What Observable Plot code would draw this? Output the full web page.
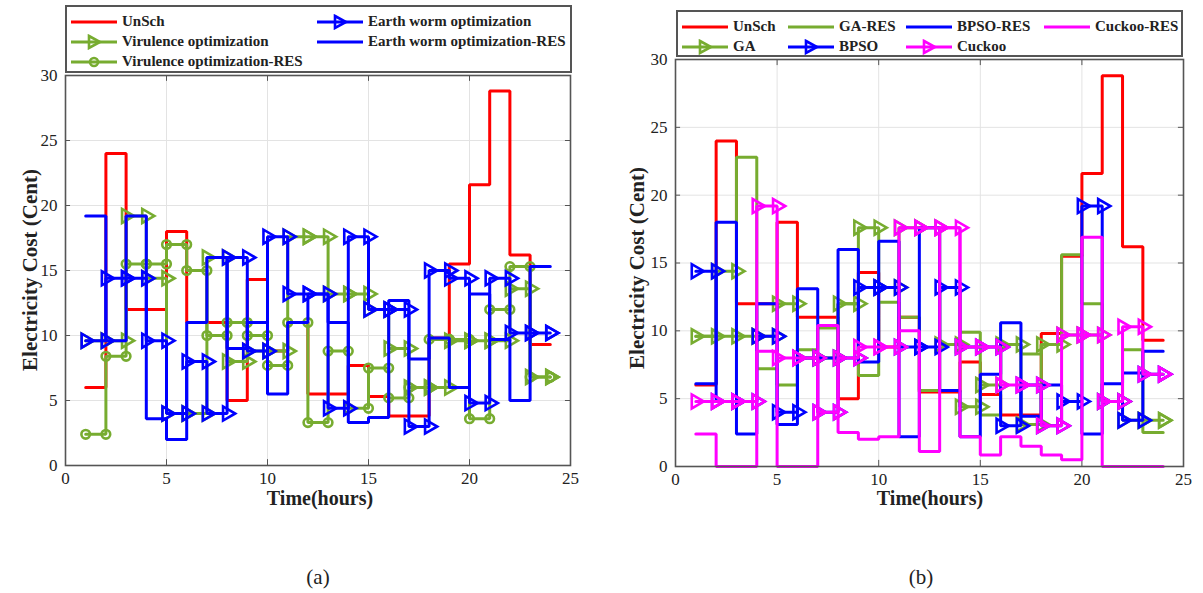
<!DOCTYPE html>
<html>
<head>
<meta charset="utf-8">
<script src="https://cdn.jsdelivr.net/npm/d3@7"></script>
<script src="https://cdn.jsdelivr.net/npm/@observablehq/plot@0.6"></script>
<style>
  html, body { margin: 0; padding: 0; background: #fff; }
  #root { position: relative; width: 1203px; height: 593px; background: #fff; font-family: "Liberation Serif", "Times New Roman", serif; color: #222; }
  .abs { position: absolute; }
  .legend { position: absolute; border: 2px solid #555; background: #fff; box-sizing: border-box; }
  .item { position: absolute; display: flex; align-items: center; font-weight: bold; font-size: 15px; white-space: nowrap; }
  .item svg { margin-right: 4px; }
  .ylab { position: absolute; font-weight: bold; font-size: 21px; white-space: nowrap; transform: translate(-50%, -50%) rotate(-90deg); }
  .xlab { position: absolute; font-weight: bold; font-size: 20px; white-space: nowrap; transform: translate(-50%, -50%); }
  .cap { position: absolute; font-size: 21px; transform: translate(-50%, -50%); }
</style>
</head>
<body>
<div id="root">
  <div id="pa" class="abs" style="left:0;top:0"></div>
  <div id="pb" class="abs" style="left:600px;top:0"></div>
</div>
<script>
// ---- data ----
const hours = d3.range(1, 25);
const xTicks = [0, 5, 10, 15, 20, 25];
const yTicks = [0, 5, 10, 15, 20, 25, 30];

// shared unscheduled cost
const unsch = [6, 24, 12, 12, 18, 11, 11, 5, 14.3, 8.8, 11, 5.5, 5.5, 7.7, 5.3, 3.8, 3.8, 9.8, 15.5, 21.6, 28.8, 16.2, 9.3, 9.3];

// panel (a)
const vo     = [9.6, 9.6, 19.2, 14.4, 4.0, 4.0, 16.0, 8.0, 8.8, 8.8, 17.6, 17.6, 13.2, 13.2, 12.0, 9.0, 6.0, 6.0, 9.6, 9.6, 9.6, 13.6, 6.8, 6.8];
const voRes  = [2.4, 8.4, 15.5, 15.5, 17.0, 15.0, 10.0, 11.0, 10.0, 7.7, 11.0, 3.3, 8.8, 4.4, 7.5, 5.2, 6.0, 9.7, 9.7, 3.6, 12.0, 15.3, 6.8, 6.8];
const ewo    = [9.6, 14.4, 14.4, 9.6, 4.0, 8.0, 4.0, 16.0, 8.8, 17.6, 13.2, 13.2, 4.4, 17.6, 12.0, 12.0, 3.0, 15.0, 14.4, 4.8, 14.4, 10.2, 10.2, 10.2];
const ewoRes = [19.2, 9.6, 19.2, 3.6, 2.0, 11.0, 16.0, 9.0, 11.0, 5.5, 11.0, 13.2, 11.0, 3.3, 3.7, 12.7, 8.2, 9.8, 6.0, 13.2, 9.7, 5.0, 15.3, 15.3];

// panel (b)
const ga        = [9.6, 14.4, 9.6, 9.6, 12.0, 8.0, 8.0, 12.0, 17.6, 13.2, 17.6, 17.6, 9.0, 4.4, 6.0, 9.0, 3.1, 9.0, 9.7, 9.7, 4.8, 3.4, 3.4, 3.4];
const gaRes     = [9.6, 9.6, 22.8, 7.2, 6.0, 8.6, 10.2, 12.0, 6.7, 12.1, 11.0, 5.6, 13.2, 9.9, 3.8, 9.0, 8.3, 9.0, 15.6, 12.0, 4.8, 8.6, 2.5, 2.5];
const bpso      = [14.4, 4.8, 4.8, 9.6, 4.0, 8.0, 4.0, 8.0, 13.2, 13.2, 8.8, 8.8, 13.2, 8.8, 8.8, 3.0, 6.0, 3.0, 4.8, 19.2, 4.8, 3.4, 6.8, 6.8];
const bpsoRes   = [6.1, 18.0, 2.4, 12.0, 3.1, 13.1, 8.0, 16.0, 7.7, 16.6, 2.2, 17.6, 5.6, 2.2, 6.8, 10.6, 3.7, 6.0, 4.8, 2.4, 6.1, 6.9, 8.5, 8.5];
const cuckoo    = [4.8, 4.8, 4.8, 19.2, 8.0, 8.0, 4.0, 8.0, 8.8, 8.8, 17.6, 17.6, 17.6, 8.8, 8.8, 6.0, 6.0, 3.0, 9.7, 9.7, 4.8, 10.3, 6.8, 6.8];
const cuckooRes = [2.4, 0, 0, 8.5, 0, 0, 10.4, 2.5, 2.0, 2.2, 10.0, 1.1, 17.6, 2.2, 0.85, 2.2, 1.5, 0.85, 0.5, 16.9, 0, 0, 0, 0];

const namesA = ["UnSch", "Virulence optimization", "Virulence optimization-RES", "Earth worm optimization", "Earth worm optimization-RES"];
const namesB = ["UnSch", "GA", "GA-RES", "BPSO", "BPSO-RES", "Cuckoo", "Cuckoo-RES"];

// ---- styles ----
const RED = "#ff0000", GREEN = "#77ac30", BLUE = "#0000ff", MAG = "#ff00ff";

const seriesA = [
  {name: namesA[0], values: unsch, color: RED, marker: null},
  {name: namesA[1], values: vo, color: GREEN, marker: "tri"},
  {name: namesA[2], values: voRes, color: GREEN, marker: "circ"},
  {name: namesA[3], values: ewo, color: BLUE, marker: "tri"},
  {name: namesA[4], values: ewoRes, color: BLUE, marker: null}
];
const seriesB = [
  {name: namesB[0], values: unsch, color: RED, marker: null},
  {name: namesB[1], values: ga, color: GREEN, marker: "tri"},
  {name: namesB[2], values: gaRes, color: GREEN, marker: null},
  {name: namesB[3], values: bpso, color: BLUE, marker: "tri"},
  {name: namesB[4], values: bpsoRes, color: BLUE, marker: null},
  {name: namesB[5], values: cuckoo, color: MAG, marker: "tri"},
  {name: namesB[6], values: cuckooRes, color: MAG, marker: null}
];

// stair vertices (hold each value until the next hour)
function stairs(ys) {
  const pts = [];
  for (let i = 0; i < ys.length - 1; i++) {
    pts.push({x: hours[i], y: ys[i]});
    pts.push({x: hours[i + 1], y: ys[i]});
  }
  pts.push({x: hours[ys.length - 1], y: ys[ys.length - 1]});
  return pts;
}

function panel(series, o) {
  const inX = xTicks.slice(1, -1), inY = yTicks.slice(1, -1);
  const marks = [
    Plot.gridX(inX, {stroke: "#e3e3e3", strokeOpacity: 1, strokeWidth: 1}),
    Plot.gridY(inY, {stroke: "#e3e3e3", strokeOpacity: 1, strokeWidth: 1}),
    Plot.axisX(xTicks, {tickSize: 0, tickPadding: 6, label: null, fontSize: 17}),
    Plot.axisY(yTicks, {tickSize: 0, tickPadding: 8, label: null, fontSize: 17}),
    Plot.ruleX(inX, {y1: 0, y2: 0.45, stroke: "#555"}),
    Plot.ruleX(inX, {y1: 29.55, y2: 30, stroke: "#555"}),
    Plot.ruleY(inY, {x1: 0, x2: 0.25, stroke: "#555"}),
    Plot.ruleY(inY, {x1: 24.75, x2: 25, stroke: "#555"})
  ];
  for (const s of series) {
    const v = stairs(s.values);
    marks.push(Plot.line(v, {x: "x", y: "y", stroke: s.color, strokeWidth: 3, strokeLinejoin: "miter"}));
    if (s.marker === "tri") {
      marks.push(Plot.dot(v, {x: "x", y: "y", symbol: "triangle", rotate: 90, r: 5.2, stroke: s.color, strokeWidth: 2.6, fill: "none"}));
    } else if (s.marker === "circ") {
      marks.push(Plot.dot(v, {x: "x", y: "y", symbol: "circle", r: 4.3, stroke: s.color, strokeWidth: 2.6, fill: "none"}));
    }
  }
  marks.push(Plot.frame({stroke: "#555", strokeWidth: 1.6}));
  return Plot.plot({
    width: o.width, height: o.height,
    marginLeft: o.ml, marginRight: o.mr, marginTop: o.mt, marginBottom: o.mb,
    x: {domain: [0, 25]},
    y: {domain: [0, 30]},
    style: {fontFamily: "Liberation Serif, Times New Roman, serif", fontSize: "17px", color: "#222", background: "transparent", overflow: "visible"},
    marks
  });
}

document.getElementById("pa").appendChild(panel(seriesA, {width: 590, height: 500, ml: 65, mr: 20, mt: 75, mb: 35}));
document.getElementById("pb").appendChild(panel(seriesB, {width: 600, height: 500, ml: 75, mr: 17, mt: 59, mb: 34}));

// ---- legends, labels ----
const root = document.getElementById("root");
function swatch(color, marker) {
  let m = "";
  if (marker === "tri") m = `<path d="M18,-6 L29,0 L18,6 Z" fill="none" stroke="${color}" stroke-width="2.6" transform="translate(0,8)"/>`;
  if (marker === "circ") m = `<circle cx="23" cy="8" r="4" fill="none" stroke="${color}" stroke-width="2.6"/>`;
  return `<svg width="47" height="16"><line x1="0" y1="8" x2="46" y2="8" stroke="${color}" stroke-width="3"/>${m}</svg>`;
}
function legend(box, items) {
  const d = document.createElement("div");
  d.className = "legend";
  Object.assign(d.style, {left: box.x + "px", top: box.y + "px", width: box.w + "px", height: box.h + "px"});
  for (const it of items) {
    const e = document.createElement("div");
    e.className = "item";
    e.style.left = (it.x - box.x) + "px";
    e.style.top = (it.y - box.y - 9) + "px";
    e.innerHTML = swatch(it.color, it.marker) + `<span>${it.name}</span>`;
    d.appendChild(e);
  }
  root.appendChild(d);
}
legend({x: 65, y: 5, w: 507, h: 68}, [
  {name: namesA[0], color: RED, marker: null, x: 69, y: 20},
  {name: namesA[1], color: GREEN, marker: "tri", x: 69, y: 40},
  {name: namesA[2], color: GREEN, marker: "circ", x: 69, y: 60},
  {name: namesA[3], color: BLUE, marker: "tri", x: 315, y: 20},
  {name: namesA[4], color: BLUE, marker: null, x: 315, y: 40}
]);
legend({x: 676, y: 10, w: 507, h: 47}, [
  {name: namesB[0], color: RED, marker: null, x: 680, y: 25},
  {name: namesB[1], color: GREEN, marker: "tri", x: 680, y: 45},
  {name: namesB[2], color: GREEN, marker: null, x: 786, y: 25},
  {name: namesB[3], color: BLUE, marker: "tri", x: 786, y: 45},
  {name: namesB[4], color: BLUE, marker: null, x: 904, y: 25},
  {name: namesB[5], color: MAG, marker: "tri", x: 904, y: 45},
  {name: namesB[6], color: MAG, marker: null, x: 1042, y: 25}
]);
function text(cls, s, x, y) {
  const e = document.createElement("div");
  e.className = cls; e.textContent = s;
  e.style.left = x + "px"; e.style.top = y + "px";
  root.appendChild(e);
}
text("ylab", "Electricity Cost (Cent)", 30, 270);
text("ylab", "Electricity Cost (Cent)", 637, 268);
text("xlab", "Time(hours)", 320, 498);
text("xlab", "Time(hours)", 930, 498);
text("cap", "(a)", 318, 577);
text("cap", "(b)", 921, 577);
</script>
</body>
</html>
